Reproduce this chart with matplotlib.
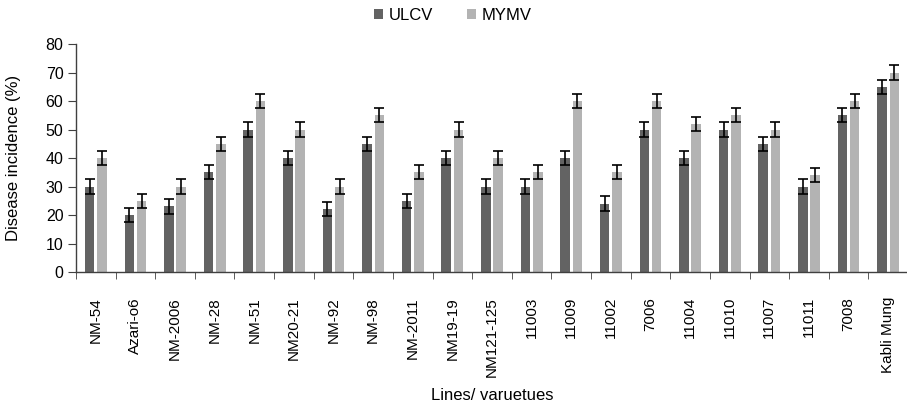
import matplotlib
matplotlib.use("Agg")
import matplotlib.pyplot as plt
import numpy as np

plt.rcParams['font.family'] = ['Liberation Sans', 'DejaVu Sans']

categories = ["NM-54", "Azari-o6", "NM-2006", "NM-28", "NM-51", "NM20-21", "NM-92",
              "NM-98", "NM-2011", "NM19-19", "NM121-125", "11003", "11009", "11002",
              "7006", "11004", "11010", "11007", "11011", "7008", "Kabli Mung"]
ulcv = [30, 20, 23, 35, 50, 40, 22, 45, 25, 40, 30, 30, 40, 24, 50, 40, 50, 45, 30, 55, 65]
mymv = [40, 25, 30, 45, 60, 50, 30, 55, 35, 50, 40, 35, 60, 35, 60, 52, 55, 50, 34, 60, 70]
ulcv_err = [2.5] * len(categories)
mymv_err = [2.5] * len(categories)

fig = plt.figure(figsize=(9.07, 4.04), dpi=100)
ax = fig.add_axes([76/907, 1 - 272/404, (908-76)/907, (272-44)/404])

x = np.arange(len(categories))
w = 0.24
off = 0.155
err_kw = dict(ecolor='black', elinewidth=1.2, capsize=3.5, capthick=1.2)
ax.bar(x - off, ulcv, w, color='#636363', yerr=ulcv_err, error_kw=err_kw, label='ULCV')
ax.bar(x + off, mymv, w, color='#b3b3b3', yerr=mymv_err, error_kw=err_kw, label='MYMV')

ax.set_xlim(-0.5, len(categories) - 0.5)
ax.set_ylim(0, 80)
ax.set_yticks(range(0, 81, 10))
ax.tick_params(axis='y', labelsize=11.5, direction='out', length=6, pad=3, color='#404040')
ax.set_xticks(x)
ax.set_xticklabels(categories, rotation=90, fontsize=11)
ax.set_xticks(np.arange(-0.5, len(categories), 1), minor=True)
ax.tick_params(axis='x', which='major', length=0, pad=18)
ax.tick_params(axis='x', which='minor', length=5, direction='out', color='#404040')

for s in ['top', 'right']:
    ax.spines[s].set_visible(False)
for s in ['left', 'bottom']:
    ax.spines[s].set_color('#404040')
    ax.spines[s].set_linewidth(1.0)

ax.set_ylabel('Disease incidence (%)', fontsize=12)
ax.yaxis.set_label_coords((21 - 76) / (908 - 76), 0.5)
fig.text(492/907, 1 - 395/404, 'Lines/ varuetues', ha='center', va='center', fontsize=12)

fig.legend(loc='center', bbox_to_anchor=(453/907, 1 - 15/404), ncol=2, frameon=False,
           fontsize=12, handlelength=0.55, handleheight=0.55, columnspacing=2.0,
           handletextpad=0.35)

fig.savefig('out.png', dpi=100)
